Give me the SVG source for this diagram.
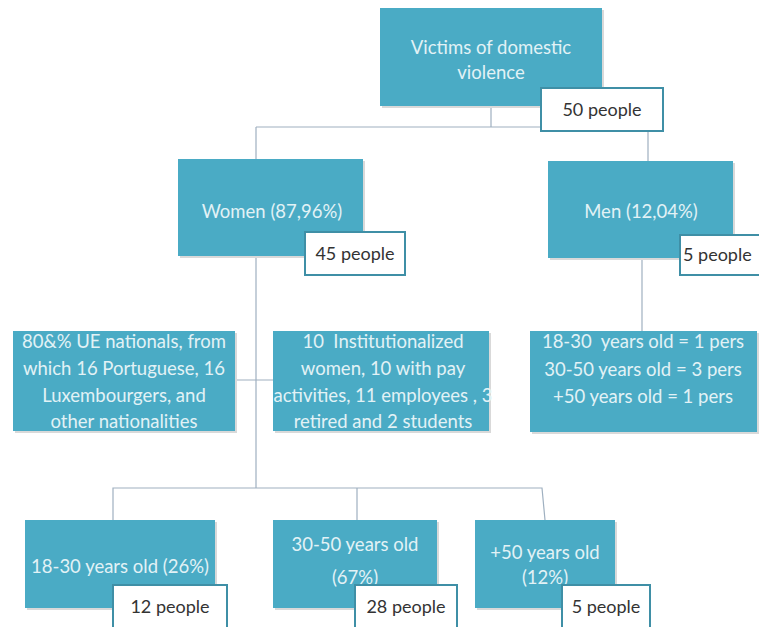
<svg xmlns="http://www.w3.org/2000/svg" width="759" height="627" viewBox="0 0 759 627">
<style>
.box{fill:#4aabc5;}
.sh{fill:#d9d9d9;}
.lab{fill:#ffffff;stroke:#3f8fa6;stroke-width:2;}
.t{font-family:Lato,"Open Sans",sans-serif;font-size:18.5px;fill:#e2f2f6;text-anchor:middle;}
.lt{font-family:Lato,"Open Sans",sans-serif;font-size:18px;fill:#333333;text-anchor:middle;}
.c{stroke:#9fb0c0;stroke-width:1.2;fill:none;}
</style>
<rect width="759" height="627" fill="#ffffff"/>
<g id="connectors">
<path class="c" d="M491 106V127M256 127H648V161M256 127V159"/>
<path class="c" d="M642 258V331"/>
<path class="c" d="M256 256V488M235 380H273"/>
<path class="c" d="M113 520V488H542L545 520M357 488V520"/>
</g>
<g id="root">
<rect class="sh" x="382" y="10" width="222" height="98"/>
<rect class="box" x="380" y="8" width="222" height="98"/>
<text class="t" x="491" y="54">Victims of domestic</text>
<text class="t" x="491" y="79">violence</text>
<rect class="lab" x="541" y="88" width="122" height="43"/>
<text class="lt" x="602" y="116">50 people</text>
</g>
<g id="women">
<rect class="sh" x="180" y="161" width="185" height="97"/>
<rect class="box" x="178" y="159" width="185" height="97"/>
<text class="t" x="272" y="218">Women (87,96%)</text>
<rect class="lab" x="305" y="232" width="100" height="43"/>
<text class="lt" x="355" y="260">45 people</text>
</g>
<g id="men">
<rect class="sh" x="550" y="163" width="185" height="97"/>
<rect class="box" x="548" y="161" width="185" height="97"/>
<text class="t" x="641" y="218">Men (12,04%)</text>
<rect class="lab" x="680" y="235" width="90" height="40"/>
<text class="lt" x="683" y="261" style="text-anchor:start">5 people</text>
</g>
<g id="nationalities">
<rect class="sh" x="15" y="333" width="222" height="100"/>
<rect class="box" x="13" y="331" width="222" height="100"/>
<text class="t" x="124" y="348">80&amp;% UE nationals, from</text>
<text class="t" x="124" y="375">which 16 Portuguese, 16</text>
<text class="t" x="124" y="402">Luxembourgers, and</text>
<text class="t" x="124" y="428">other nationalities</text>
</g>
<g id="activities">
<rect class="sh" x="275" y="333" width="216" height="100"/>
<rect class="box" x="273" y="331" width="216" height="100"/>
<text class="t" x="383" y="348" xml:space="preserve">10  Institutionalized</text>
<text class="t" x="383" y="375">women, 10 with pay</text>
<text class="t" x="383" y="402">activities, 11 employees , 3</text>
<text class="t" x="383" y="428">retired and 2 students</text>
</g>
<g id="men-ages">
<rect class="sh" x="532" y="333" width="227" height="101"/>
<rect class="box" x="530" y="331" width="227" height="101"/>
<text class="t" x="643" y="348" xml:space="preserve">18-30  years old = 1 pers</text>
<text class="t" x="643" y="376">30-50 years old = 3 pers</text>
<text class="t" x="643" y="403">+50 years old = 1 pers</text>
</g>
<g id="age-18-30">
<rect class="sh" x="27" y="522" width="190" height="88"/>
<rect class="box" x="25" y="520" width="190" height="88"/>
<text class="t" x="120" y="573">18-30 years old (26%)</text>
<rect class="lab" x="113" y="585" width="114" height="44"/>
<text class="lt" x="170" y="613">12 people</text>
</g>
<g id="age-30-50">
<rect class="sh" x="275" y="522" width="164" height="88"/>
<rect class="box" x="273" y="520" width="164" height="88"/>
<text class="t" x="355" y="551">30-50 years old</text>
<text class="t" x="355" y="584">(67%)</text>
<rect class="lab" x="355" y="585" width="102" height="44"/>
<text class="lt" x="406" y="613">28 people</text>
</g>
<g id="age-50plus">
<rect class="sh" x="477" y="522" width="140" height="88"/>
<rect class="box" x="475" y="520" width="140" height="88"/>
<text class="t" x="545" y="559">+50 years old</text>
<text class="t" x="545" y="584">(12%)</text>
<rect class="lab" x="562" y="585" width="88" height="44"/>
<text class="lt" x="606" y="613">5 people</text>
</g>
</svg>
